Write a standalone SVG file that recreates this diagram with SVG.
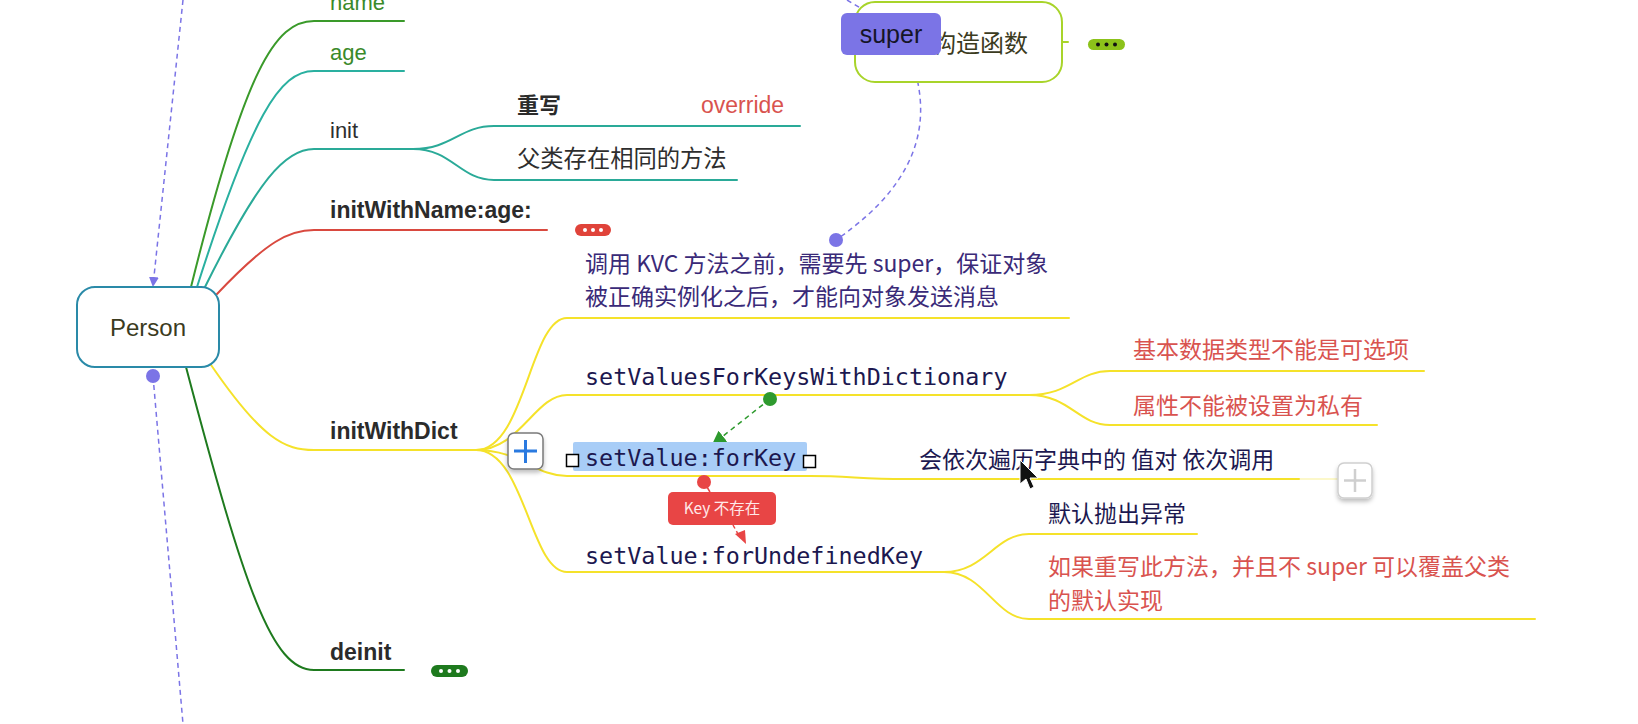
<svg xmlns="http://www.w3.org/2000/svg" width="1638" height="724" viewBox="0 0 1638 724">
<defs>
<style>
.sans{font-family:"Liberation Sans",Arial,"Noto Sans CJK SC",sans-serif;}
.cjk{font-family:"Noto Sans CJK SC","Liberation Sans",sans-serif;}
.mono{font-family:"DejaVu Sans Mono","Liberation Mono",monospace;font-size:23.4px;fill:#1c1850;}
.lbl{font-size:22px;}
.b{font-weight:bold;fill:#2b2b2b;font-size:23px;}
.dark{fill:#2e2e2e;}
.navy{fill:#1c1850;}
.red{fill:#d9534f;}
.br{fill:none;stroke-width:2;stroke-linecap:round;}
.y{stroke:#f5e22a;}
.dash{fill:none;stroke-width:1.5;stroke-dasharray:5 4;}
</style>
<marker id="arP" viewBox="0 0 10 10" refX="9" refY="5" markerWidth="10" markerHeight="10" markerUnits="userSpaceOnUse" orient="auto"><path d="M0,0 L10,5 L0,10 Z" fill="#7b74e6"/></marker>
<marker id="arG" viewBox="0 0 10 10" refX="9" refY="5" markerWidth="14" markerHeight="14" markerUnits="userSpaceOnUse" orient="auto"><path d="M0,0 L10,5 L0,10 Z" fill="#2e9a2e"/></marker>
<marker id="arR" viewBox="0 0 10 10" refX="9" refY="5" markerWidth="13" markerHeight="13" markerUnits="userSpaceOnUse" orient="auto"><path d="M0,0 L10,5 L0,10 Z" fill="#e84545"/></marker>
<filter id="sh" x="-30%" y="-30%" width="160%" height="170%"><feDropShadow dx="0" dy="3" stdDeviation="2" flood-color="#000" flood-opacity="0.25"/></filter>
</defs>
<rect width="1638" height="724" fill="#ffffff"/>

<g id="connectors">
  <path class="br" stroke="#3a9a2a" d="M191,287 C245,70 275,21 314,21 H404"/>
  <path class="br" stroke="#2ab0a0" d="M197,287 C252,115 280,71 314,71 H404"/>
  <path class="br" stroke="#2aaa98" d="M205,287 C258,180 285,149 314,149 H413"/>
  <path class="br" stroke="#d9493f" d="M217,294 C268,240 290,230 314,230 H547"/>
  <path class="br y" d="M209,362 C262,440 285,450 314,450 H476"/>
  <path class="br" stroke="#1e7a1e" d="M186,367 C245,590 272,670 314,670 H404"/>
  <path class="br" stroke="#2aaa98" d="M413,149 C452,149 460,126 494,126 H800"/>
  <path class="br" stroke="#2aaa98" d="M413,149 C452,149 460,180 494,180 H737"/>
  <path class="br y" d="M476,450 C525,450 530,318 567,318 H1069"/>
  <path class="br y" d="M476,450 C520,450 535,395 567,395 H1029"/>
  <path class="br y" d="M476,450 C520,450 535,476 567,476 H810 C850,476 860,479 906,479 H1299"/>
  <path class="br y" d="M476,450 C525,450 530,572 567,572 H944"/>
  <path class="br" stroke="#f5e22a" stroke-opacity="0.25" d="M1299,479 H1338"/>
  <path class="br y" d="M1029,395 C1070,395 1078,371 1110,371 H1424"/>
  <path class="br y" d="M1029,395 C1070,395 1078,425 1110,425 H1377"/>
  <path class="br y" d="M944,572 C985,572 995,534 1029,534 H1197"/>
  <path class="br y" d="M944,572 C985,572 995,619 1029,619 H1535"/>
  <path class="br" stroke="#a8d42a" d="M1062,42 H1068"/>
  <path class="dash" stroke="#7b74e6" d="M183,0 L153,286" marker-end="url(#arP)"/>
  <path class="dash" stroke="#7b74e6" d="M153,376 L183,724"/>
  <path class="dash" stroke="#7b74e6" d="M847,0 L867,12"/>
  <path class="dash" stroke="#7b74e6" d="M910,55 C930,110 930,175 836,240"/>
  <path class="dash" stroke="#2e9a2e" d="M770,399 L713,444" marker-end="url(#arG)"/>
  <path fill="none" stroke="#e84545" stroke-width="1.5" d="M704,482 L710,492"/>
  <path fill="none" stroke="#e84545" stroke-width="1.5" stroke-dasharray="4 3" d="M733,525 L738,534"/>
  <path d="M735,534 L746,544 L745,530 Z" fill="#e84545"/>
</g>

<g id="person">
  <rect x="77" y="287" width="142" height="80" rx="18" fill="#ffffff" stroke="#2a8aa8" stroke-width="2"/>
  <text x="148" y="336" text-anchor="middle" class="sans" font-size="24" fill="#3b3b1e">Person</text>
</g>
<circle id="person-dot-top" cx="153" cy="376" r="7" fill="#7b74e6"/>

<g id="name"><text x="330" y="10" class="sans lbl" fill="#3a8a2a">name</text></g>
<g id="age"><text x="330" y="60" class="sans lbl" fill="#3a8a2a">age</text></g>
<g id="init"><text x="330" y="138" class="sans lbl dark" font-size="23">init</text></g>
<g id="override-node">
  <text x="517" y="113" class="cjk" font-size="22" font-weight="bold" fill="#2b2b2b">重写</text>
  <text x="701" y="113" class="sans red" font-size="23">override</text>
</g>
<g id="same-method"><text x="517" y="167" class="cjk dark" font-size="23.3">父类存在相同的方法</text></g>
<g id="initWithName">
  <text x="330" y="218" class="sans b">initWithName:age:</text>
  <rect x="575" y="224" width="36" height="12" rx="6" fill="#e0433a"/>
  <circle cx="585" cy="230" r="2" fill="#fff"/><circle cx="593" cy="230" r="2" fill="#fff"/><circle cx="601" cy="230" r="2" fill="#fff"/>
</g>
<g id="initWithDict"><text x="330" y="439" class="sans b">initWithDict</text></g>
<g id="deinit">
  <text x="330" y="660" class="sans b">deinit</text>
  <rect x="431" y="665" width="37" height="12" rx="6" fill="#1e7a1e"/>
  <circle cx="441" cy="671" r="2" fill="#fff"/><circle cx="449.5" cy="671" r="2" fill="#fff"/><circle cx="458" cy="671" r="2" fill="#fff"/>
</g>

<g id="kvc-note">
  <text class="cjk" font-size="23" x="585" y="272" fill="#3a2a78">调用 KVC 方法之前，需要先 super，保证对象</text>
  <text class="cjk" font-size="23" x="585" y="305" fill="#3a2a78">被正确实例化之后，才能向对象发送消息</text>
</g>

<g id="setValuesForKeys"><text x="585" y="385" class="mono">setValuesForKeysWithDictionary</text></g>
<g id="optional"><text x="1133" y="358" class="cjk red" font-size="23">基本数据类型不能是可选项</text></g>
<g id="private"><text x="1133" y="414" class="cjk red" font-size="23">属性不能被设置为私有</text></g>

<g id="setValueForKey">
  <rect x="573" y="442" width="234" height="29" rx="2" fill="#a8cdf7"/>
  <rect x="566.5" y="454.5" width="12" height="12" fill="#fff" stroke="#000" stroke-width="1.5"/>
  <rect x="803.5" y="455.5" width="12" height="12" fill="#fff" stroke="#000" stroke-width="1.5"/>
  <text x="585" y="466" class="mono">setValue:forKey</text>
</g>
<g id="add-button">
  <rect x="508" y="433" width="35" height="36" rx="6" fill="#ffffff" stroke="#7a7a7a" stroke-width="1.5" filter="url(#sh)"/>
  <path d="M514,451 H537 M525.5,440 V463" stroke="#2a7ae0" stroke-width="3"/>
</g>
<g id="traverse"><text x="919" y="468" class="cjk navy" font-size="23">会依次遍历字典中的 值对 依次调用</text></g>
<g id="add-button-faded">
  <rect x="1338" y="463" width="34" height="35" rx="6" fill="#ffffff" stroke="#cfcfcf" stroke-width="1.5" filter="url(#sh)"/>
  <path d="M1344,480.5 H1366 M1355,469 V492" stroke="#cfcfcf" stroke-width="2.5"/>
</g>
<g id="cursor">
  <path d="M1020,460 L1020,484 L1026,479 L1030,489 L1034,487 L1030,478 L1038,478 Z" fill="#111" stroke="#fff" stroke-width="1"/>
</g>

<g id="key-missing">
  <circle cx="704" cy="482" r="7" fill="#e84545"/>
  <rect x="668" y="492" width="108" height="33" rx="5" fill="#e84545"/>
  <text x="722" y="514" text-anchor="middle" class="cjk" font-size="15.5" fill="#ffe8e8">Key 不存在</text>
</g>
<circle id="green-dot" cx="770" cy="399" r="7" fill="#2e9a2e"/>

<g id="forUndefinedKey"><text x="585" y="564" class="mono">setValue:forUndefinedKey</text></g>
<g id="default-throw"><text x="1048" y="522" class="cjk navy" font-size="23">默认抛出异常</text></g>
<g id="override-default">
  <text x="1048" y="575" class="cjk red" font-size="23">如果重写此方法，并且不 super 可以覆盖父类</text>
  <text x="1048" y="609" class="cjk red" font-size="23">的默认实现</text>
</g>

<g id="constructor">
  <rect x="855" y="2" width="207" height="80" rx="20" fill="#ffffff" stroke="#a8d42a" stroke-width="2"/>
  <text x="932" y="52" class="cjk" font-size="24" fill="#3b3b1e">构造函数</text>
  <rect x="1088" y="39" width="37" height="11" rx="5.5" fill="#8cc21a"/>
  <circle cx="1098" cy="44.5" r="2" fill="#111"/><circle cx="1106.5" cy="44.5" r="2" fill="#111"/><circle cx="1115" cy="44.5" r="2" fill="#111"/>
</g>
<g id="super">
  <rect x="841" y="13" width="100" height="42" rx="6" fill="#7b74e6"/>
  <text x="891" y="43" text-anchor="middle" class="sans" font-size="25" fill="#151528">super</text>
</g>
<circle id="purple-dot" cx="836" cy="240" r="7" fill="#7b74e6"/>
</svg>
